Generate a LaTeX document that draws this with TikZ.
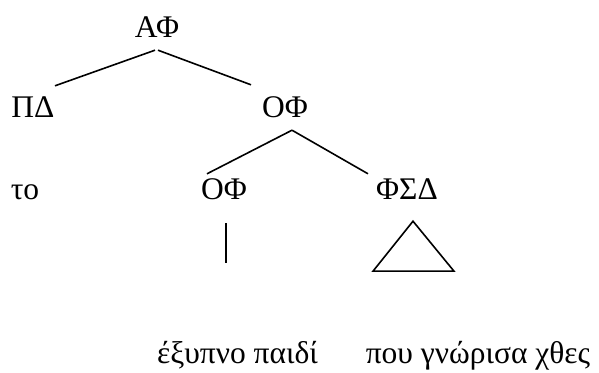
\documentclass[tikz,border=0pt]{standalone}
\usepackage{fontspec}
\setmainfont{Liberation Serif}
\usetikzlibrary{calc}
\begin{document}
\begin{tikzpicture}[x=1pt,y=1pt,
  lab/.style={anchor=base,inner xsep=0pt,inner ysep=12pt,text height=21pt,text depth=0pt,font=\fontsize{31.5}{38}\selectfont},
  word/.style={anchor=base,inner sep=0pt,font=\fontsize{31.5}{38}\selectfont},
  edge/.style={line width=1.6pt}]
\useasboundingbox (0,0) rectangle (599,372);
\node[lab] (AF) at (157,334) {ΑΦ};
\node[lab] (PD) at (33,254) {ΠΔ};
\node[lab] (OF1) at (285,254) {ΟΦ};
\node[lab] (TO) at (25,172) {το};
\node[lab] (OF2) at (224,172) {ΟΦ};
\node[lab] (FSD) at (407,172) {ΦΣΔ};
\node[word] (W1) at (237.5,9) {έξυπνο παιδί};
\node[word] (W2) at (478,9) {που γνώρισα χθες};
\draw[edge] ([xshift=-2pt]AF.south) -- ([xshift=22pt,yshift=-1pt]PD.north);
\draw[edge] ([xshift=1pt]AF.south) -- ([xshift=-34pt,yshift=0pt]OF1.north);
\draw[edge] ([xshift=7pt]OF1.south) -- ([xshift=-17pt,yshift=-7pt]OF2.north);
\draw[edge] ([xshift=7pt]OF1.south) -- ([xshift=-39pt,yshift=-7pt]FSD.north);
\draw[edge] ([shift={(2pt,-11pt)}]OF2.south) -- ++(0,-40);
\draw[edge,line join=miter] ([shift={(6pt,-9pt)}]FSD.south) -- ++(-40,-50) -- ++(81,0) -- cycle;
\end{tikzpicture}
\end{document}
